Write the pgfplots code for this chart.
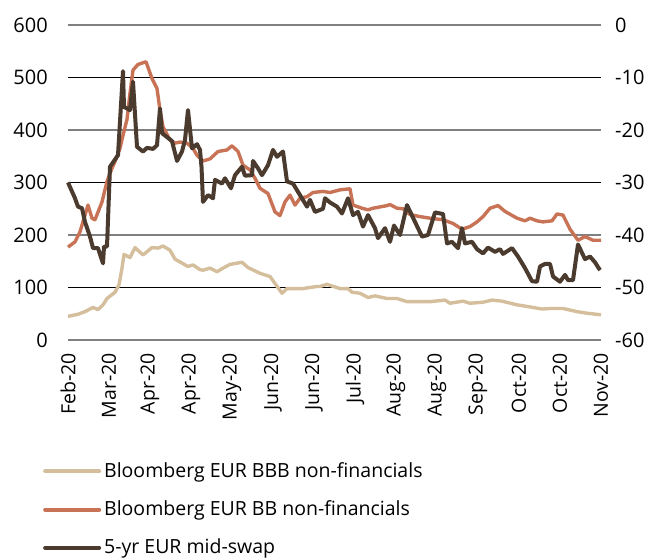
\documentclass[border=0pt]{standalone}
\usepackage{pgfplots}
\pgfplotsset{compat=1.18}
\usepackage{fontspec}
\setmainfont{Open Sans}
\definecolor{cbbb}{RGB}{212,190,155}
\definecolor{cbb}{RGB}{200,115,85}
\definecolor{cswap}{RGB}{75,58,46}
\begin{document}
\fontsize{19.5bp}{23bp}\selectfont
\begin{tikzpicture}
\useasboundingbox (-68bp,-220bp) rectangle (583bp,340bp);
\begin{axis}[
  at={(0,0)}, anchor=south west,
  scale only axis, width=533bp, height=315bp,
  xmin=0, xmax=533, ymin=0, ymax=600,
  clip=false,
  axis line style={draw=none},
  major tick length=0pt,
  /pgf/number format/assume math mode=true,
  xtick={0,41,...,533},
  xticklabels={Feb-20,Mar-20,Apr-20,Apr-20,May-20,Jun-20,Jun-20,Jul-20,Aug-20,Aug-20,Sep-20,Oct-20,Oct-20,Nov-20},
  xticklabel style={rotate=90, anchor=east, inner sep=0pt, font=\fontsize{19.5bp}{23bp}\selectfont},
  xticklabel shift=13bp,
  ytick={0,200,400,600},
  extra y ticks={100,300,500},
  extra y tick style={grid style={black, line width=0.9bp}},
  ymajorgrids,
  grid style={gray, line width=1.3bp},
  yticklabel style={anchor=east, inner sep=0pt, font=\fontsize{20bp}{24bp}\selectfont},
  yticklabel shift=20bp,
]
\addplot[cbbb, line width=3.4bp, line join=round] coordinates {
(0,45)(10,49)(17,54)(25,62)(30,58)(35,67)(39,79)(47,91)(51,105)(54,137)(56,163)(62,157)(67,176)(75,162)(84,176)(90,175)(95,179)(102,171)(107,154)(120,140)(125,143)(132,134)(135,133)(142,137)(149,130)(155,137)(162,144)(174,148)(180,138)(192,127)(202,121)(208,105)(214,89)(219,98)(229,98)(235,98)(249,102)(252,102)(259,106)(272,98)(280,98)(284,91)(292,89)(300,81)(307,84)(319,79)(329,79)(339,73)(352,73)(362,73)(377,76)(382,70)(395,74)(402,70)(415,72)(424,76)(434,74)(449,67)(462,63)(474,59)(482,60)(495,60)(509,54)(519,51)(533,48)
};
\addplot[cbb, line width=3.4bp, line join=round] coordinates {
(0,177)(7,187)(12,206)(17,238)(20,257)(24,232)(27,229)(34,263)(39,302)(44,327)(47,340)(52,365)(55,390)(59,420)(62,470)(65,514)(70,525)(78,530)(84,498)(89,479)(92,438)(95,406)(102,381)(107,375)(112,377)(119,375)(125,365)(129,352)(135,341)(142,345)(150,359)(159,362)(164,370)(170,359)(175,333)(182,324)(187,308)(192,289)(200,279)(207,244)(212,237)(217,263)(222,276)(227,257)(232,270)(239,273)(245,281)(255,283)(262,281)(272,286)(282,288)(285,257)(294,251)(300,248)(305,251)(319,256)(322,258)(329,251)(335,250)(342,239)(352,235)(362,232)(375,229)(385,222)(394,211)(402,216)(409,225)(415,235)(422,251)(430,256)(437,245)(449,232)(457,227)(462,232)(469,227)(475,225)(484,227)(489,240)(495,238)(502,211)(510,190)(517,197)(525,190)(533,190)
};
\end{axis}
\begin{axis}[
  at={(0,0)}, anchor=south west,
  scale only axis, width=533bp, height=315bp,
  xmin=0, xmax=533, ymin=-60, ymax=0,
  clip=false,
  axis line style={draw=none},
  major tick length=0pt,
  /pgf/number format/assume math mode=true,
  xtick=\empty,
  ytick={-60,-50,...,0},
  yticklabel pos=right,
  yticklabel style={anchor=west, inner sep=0pt, font=\fontsize{20bp}{24bp}\selectfont},
  yticklabel shift=14bp,
  legend style={at={(-0.047,-0.378)}, anchor=north west, draw=none, fill=none,
    inner sep=0pt, row sep=14.5bp, cells={anchor=west},
    nodes={inner sep=3bp, font=\fontsize{19.5bp}{23bp}\selectfont}},
  legend image code/.code={\draw[#1, line width=4bp, line cap=round] (0bp,0bp) -- (54bp,0bp);},
]
\addlegendimage{cbbb}
\addlegendentry{Bloomberg EUR BBB non-financials}
\addlegendimage{cbb}
\addlegendentry{Bloomberg EUR BB non-financials}
\addplot[cswap, line width=4bp, line join=round] coordinates {
(0,-30)(7,-33.0)(10,-34.6)(14,-34.9)(17,-37.5)(22,-40.3)(25,-42.5)(30,-42.5)(35,-45.4)(36,-42.2)(39,-42.2)(42,-27)(50,-24.8)(55,-8.8)(56,-15.6)(62,-16.2)(65,-10.8)(69,-23.2)(75,-24.1)(79,-23.4)(85,-23.6)(89,-22.9)(92,-15.9)(94,-20.6)(100,-21.5)(104,-22.1)(109,-25.9)(114,-24.1)(117,-21.9)(120,-16.2)(124,-23.5)(129,-22.7)(132,-23.8)(133.5,-27)(135,-33.7)(140,-32.4)(145,-33.0)(147,-29.5)(154,-30.2)(157,-29.2)(163,-31.1)(167,-28.6)(174,-27.0)(177,-28.7)(184,-28.6)(185,-25.9)(190,-27.3)(194,-28.6)(200,-26.7)(205,-23.8)(209,-25.1)(215,-24.1)(219,-29.8)(225,-30.2)(232,-32.4)(239,-34.6)(242,-33.3)(247,-35.6)(255,-35.0)(257,-33.0)(262,-33.8)(269,-34.6)(274,-35.9)(280,-33.0)(285,-36.2)(290,-35.6)(295,-38.4)(300,-36.2)(307,-38.7)(310,-40.6)(317,-38.7)(322,-41.3)(326,-38.2)(332,-40.0)(339,-34.3)(347,-37.5)(354,-40.3)(360,-40.0)(367,-35.7)(375,-36.0)(379,-41.6)(384,-41.3)(390,-42.5)(394,-38.7)(397,-41.6)(404,-41.3)(409,-42.7)(415,-43.5)(420,-42.4)(427,-43.2)(432,-42.7)(435,-43.6)(444,-42.5)(450,-44.1)(457,-46.3)(464,-48.8)(469,-48.9)(472,-46.0)(477,-45.5)(482,-45.5)(485,-47.9)(492,-48.9)(497,-47.6)(500,-48.6)(505,-48.6)(510,-41.8)(517,-44.6)(522,-44.1)(527,-45.2)(532,-46.7)
};
\addlegendentry{5-yr EUR mid-swap}
\end{axis}
\end{tikzpicture}
\end{document}
